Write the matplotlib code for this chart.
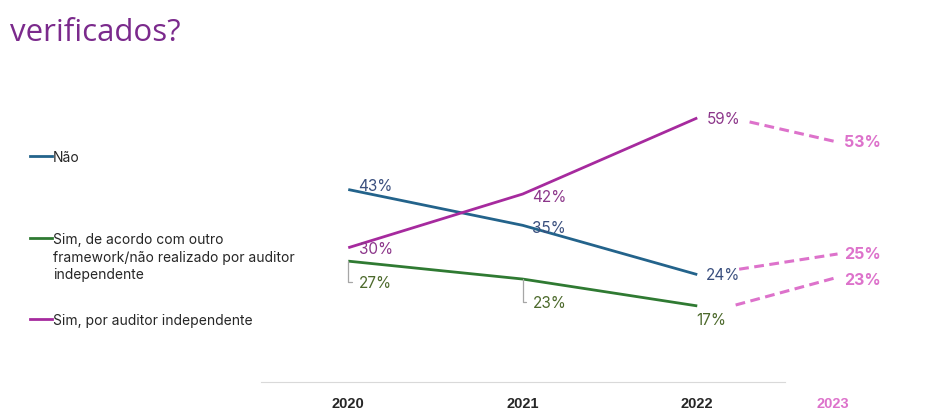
import matplotlib.pyplot as plt
from matplotlib.lines import Line2D

# dados
anos = [2020, 2021, 2022]
ano_prev = "2023"
series = ["Não",
          "Sim, de acordo com outro\nframework/não realizado por auditor\nindependente",
          "Sim, por auditor independente"]
valores = [[43, 35, 24],
           [27, 23, 17],
           [30, 42, 59]]
previsao = [25, 23, 53]

cores = ["#23638b", "#2f7a32", "#a62a9e"]
cores_txt = ["#3a4f7e", "#4d6a2c", "#8c368a"]
rosa = "#dd72cb"

W, H = 931, 410
fig = plt.figure(figsize=(W / 100, H / 100), dpi=100)
px = 174.5      # pixels por ano
py = 4.476      # pixels por ponto percentual
ax = fig.add_axes([261 / W, 1 - 383 / H, (W - 261) / W, (383 - 100) / H])
ax.set_xlim(2019.5, 2019.5 + (W - 261) / px)
ax.set_ylim(0, (383 - 100) / py)
x23 = 2022.774

for s in ["top", "left", "right"]:
    ax.spines[s].set_visible(False)
ax.spines["bottom"].set_bounds(2019.5, 2022.5)
ax.spines["bottom"].set_color("#d9d9d9")
ax.set_yticks([])
ax.set_xticks(anos + [x23])
ax.set_xticklabels([str(a) for a in anos] + [ano_prev],
                   fontsize=10.5, fontweight="bold", family="Liberation Sans", color="#262626")
ax.get_xticklabels()[-1].set_color(rosa)
ax.tick_params(axis="x", length=0, pad=10)

fonte = ["Inter", "DejaVu Sans"]

# linhas
for i in range(3):
    ax.plot(anos, valores[i], color=cores[i], lw=2, solid_capstyle="butt")

# rótulos (deslocamento em pixels)
desloc = [[(10, 4), (9, -2), (9, 0)],
          [(11, -21), (10, -23), (14, -14)],
          [(11, -1), (9, -2), (9, -1)]]
for i in range(3):
    for j, a in enumerate(anos):
        dx, dy = desloc[i][j]
        ha = "center" if (i == 1 and j == 2) else "left"
        kw = {}
        if i == 1 and j < 2:
            kw = dict(arrowprops=dict(arrowstyle="-", color="#a6a6a6", lw=0.9,
                                      connectionstyle="angle,angleA=0,angleB=90,rad=0",
                                      relpos=(0, 0.5), shrinkA=3, shrinkB=0))
        ax.annotate(f"{valores[i][j]}%", (a, valores[i][j]), xytext=(dx, dy),
                    textcoords="offset pixels", ha=ha, va="center",
                    fontsize=11, color=cores_txt[i], family=fonte, **kw)

# previsão 2023 (tracejado)
ini_x = [2022.24, 2022.22, 2022.30]
ini_ajuste = [1.2, 0.2, -0.9]
fim_ajuste = [3.6, 0.4, 0.6]
rot_ajuste = [3.8, 0.0, 0.8]
for i in range(3):
    ax.plot([ini_x[i], x23 + 0.03],
            [valores[i][-1] + ini_ajuste[i], previsao[i] + fim_ajuste[i]],
            color=rosa, lw=2.2, ls=(0, (3.2, 1.8)))
    ax.annotate(f"{previsao[i]}%", (x23, previsao[i] + rot_ajuste[i]), xytext=(12, 0),
                textcoords="offset pixels", ha="left", va="center",
                fontsize=11.5, fontweight="bold", color=rosa, family=fonte)

# legenda manual
leg_y = [157, 239, 320]
for i in range(3):
    y = 1 - leg_y[i] / H
    fig.add_artist(Line2D([30 / W, 52 / W], [y, y], color=cores[i], lw=2,
                          transform=fig.transFigure))
    fig.text(53 / W, y + 6 / H, series[i], ha="left", va="top", fontsize=10,
             color="#262626", family=fonte, linespacing=1.33)

# título
fig.text(10 / W, 1 - 41 / H, "verificados?", ha="left", va="baseline",
         fontsize=22.5, color="#7b2a8c", family=["Open Sans", "DejaVu Sans"])

fig.savefig("out.png", dpi=100)
